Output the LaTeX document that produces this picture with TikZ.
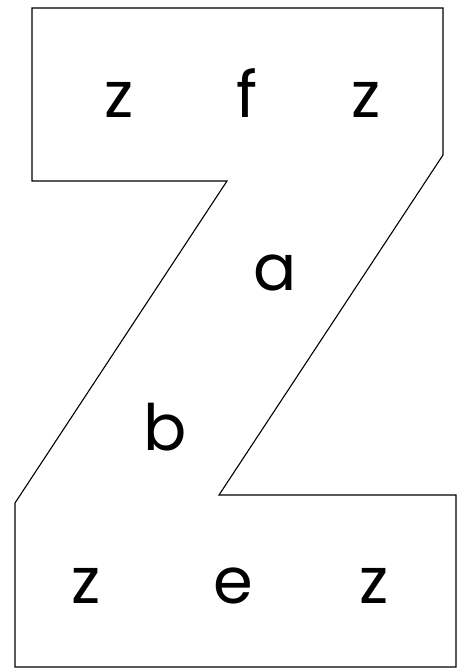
\documentclass[tikz,border=0pt]{standalone}
\usepackage{fontspec}
\setmainfont{Poppins}
\begin{document}
\begin{tikzpicture}[x=1pt,y=-1pt,
  lbl/.style={anchor=base,inner sep=0pt,font=\fontsize{64}{64}\selectfont}]
\useasboundingbox (0,0) rectangle (461,669);
\draw[line width=1.1pt,line join=miter]
  (32,8) -- (443,8) -- (443,155) -- (219,495) -- (456,495) -- (456,667)
  -- (15,667) -- (15,503) -- (227,181) -- (32,181) -- cycle;
\node[lbl] (z1) at (119,117) {z};
\node[lbl] (f) at (247,117) {f};
\node[lbl] (z2) at (366,117) {z};
\node[lbl] (a) at (275,290) {a};
\node[lbl] (b) at (165,450) {b};
\node[lbl] (z3) at (86,603) {z};
\node[lbl] (e) at (233,603) {e};
\node[lbl] (z4) at (374,603) {z};
\end{tikzpicture}
\end{document}
